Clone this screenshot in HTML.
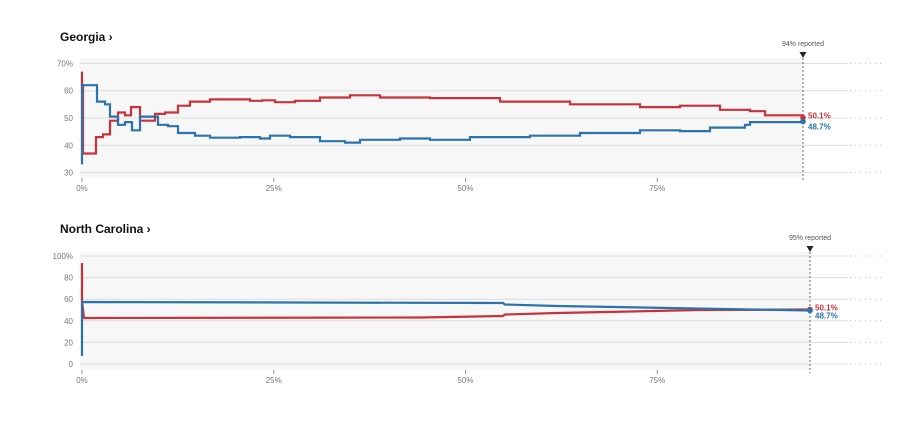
<!DOCTYPE html><html><head><style>body{margin:0;background:#fff;width:903px;height:425px;overflow:hidden;font-family:"Liberation Sans",sans-serif}</style></head><body>
<svg id="s" width="903" height="425" xmlns="http://www.w3.org/2000/svg" font-family="Liberation Sans, sans-serif">
<text x="60" y="41" font-size="12" font-weight="bold" fill="#111">Georgia ›</text>
<text x="60" y="233" font-size="12" font-weight="bold" fill="#111">North Carolina ›</text>
</svg>
<script>
var s=document.getElementById('s'),h='';
function ln(x1,y1,x2,y2,c,w,d){h+='<line x1="'+x1+'" y1="'+y1+'" x2="'+x2+'" y2="'+y2+'" stroke="'+c+'" stroke-width="'+(w||1)+'"'+(d?' stroke-dasharray="'+d+'"':'')+'/>';}
function tx(x,y,t,c,a,sz,fw){h+='<text x="'+x+'" y="'+y+'" font-size="'+(sz||8)+'" fill="'+c+'" text-anchor="'+(a||'start')+'"'+(fw?' font-weight="bold"':'')+'>'+t+'</text>';}
function step(pts,Y,c){var d='M'+pts[0][0]+' '+Y(pts[0][1]);for(var i=1;i<pts.length;i++){d+='H'+pts[i][0]+'V'+Y(pts[i][1]).toFixed(1);}h+='<path d="'+d+'" fill="none" stroke="'+c+'" stroke-width="2.2"/>';}
function poly(pts,c){h+='<polyline points="'+pts.map(function(p){return p.join(',')}).join(' ')+'" fill="none" stroke="'+c+'" stroke-width="2.2"/>';}
function chart(top,bot,ticks,labs,Y,endx,rep,draw,rv,bv,ry,by){
 h+='<rect x="80" y="'+top+'" width="'+(endx-80)+'" height="'+(bot-top)+'" fill="#f7f7f7"/>';
 ticks.forEach(function(v,i){var y=Y(v);ln(80,y,endx,y,'#ddd',1);ln(endx,y,848,y,'#ddd',1);ln(850,y,882,y,'#bbb',1,'1,4');tx(73,y+3,labs[i],'#777','end');});
 [0,25,50,75].forEach(function(p){var x=82+p*7.67;ln(x,bot,x,bot+4,'#999');tx(x,bot+13,p+'%','#777','middle');});
 draw();
 ln(endx,top-4,endx,bot+3,'#666',1,'2,2');
 h+='<path d="M'+(endx-3.5)+' '+(top-6)+'h7l-3.5 6z" fill="#222"/>';
 tx(endx,top-12,rep+'% reported','#555','middle',7);
 h+='<circle cx="'+endx+'" cy="'+ry+'" r="2.8" fill="#c9323a"/><circle cx="'+endx+'" cy="'+by+'" r="2.8" fill="#2a73ad"/>';
 tx(endx+5,ry+1,rv+'%','#c9323a','start',8,1);tx(endx+5,by+8,bv+'%','#2a73ad','start',8,1);
}
var Yg=function(v){return 118-(v-50)*2.73;};
var gr=[[82,67],[82,62],[83,37],[96,43],[103,44],[110,49],[118,52],[125,51],[131,54],[140,49],[155,51.5],[165,52],[178,54.5],[190,56],[210,56.8],[250,56.3],[262,56.5],[275,55.8],[295,56.3],[320,57.5],[350,58.3],[380,57.5],[430,57.3],[500,56],[570,55],[640,54],[680,54.5],[720,53],[750,52.5],[765,51],[803,50.1]];
var gb=[[82,33],[82,62],[97,56],[105,55],[110,50.5],[118,47.5],[125,48.5],[132,45.5],[140,50.5],[158,47.5],[168,47],[178,44.5],[195,43.5],[210,42.8],[240,43],[260,42.5],[270,43.5],[290,43],[320,41.5],[345,41],[360,42],[400,42.5],[430,42],[470,43],[530,43.5],[580,44.5],[640,45.5],[680,45.2],[710,46.5],[745,47.5],[750,48.5],[803,48.7]];
chart(58,178,[70,60,50,40,30],['70%','60','50','40','30'],Yg,803,94,function(){step(gr,Yg,'#c9323a');step(gb,Yg,'#2a73ad');},50.1,48.7,Yg(50.1),Yg(48.7));
var Yn=function(v){return 364-v*1.08;};
chart(252,370,[100,80,60,40,20,0],['100%','80','60','40','20','0'],Yn,810,95,function(){
 poly([[82,263],[82,301],[84,318],[420,317.5],[503,316],[505,314.5],[557,313],[700,310],[810,309.5]],'#c9323a');
 poly([[82,356],[82,302],[503,303],[505,304.5],[557,306],[810,310.5]],'#2a73ad');
},50.1,48.7,309.5,310.5);
s.innerHTML+=h;
</script></body></html>
